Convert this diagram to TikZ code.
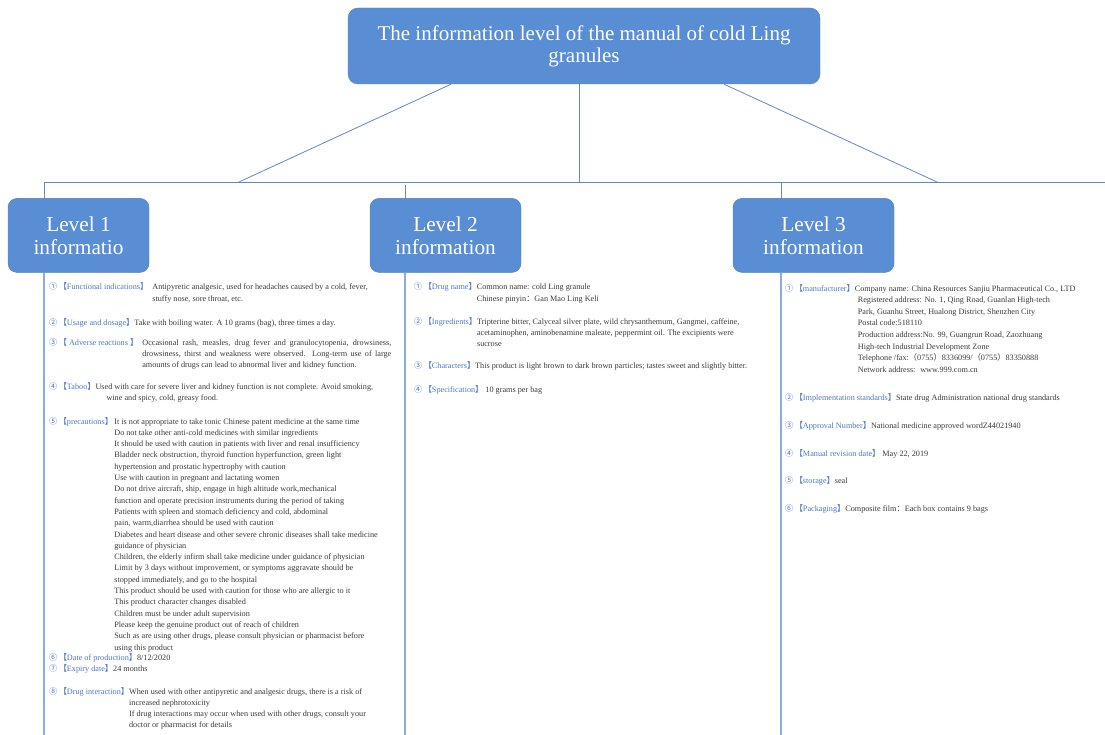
\documentclass[tikz,border=0pt]{standalone}
\usepackage{fontspec}
\setmainfont{Liberation Serif}
\newfontfamily\cjk{Noto Sans CJK SC}
\usepackage{xcolor}
\usetikzlibrary{positioning}
\definecolor{boxblue}{HTML}{598ED5}
\definecolor{boxedge}{HTML}{4C7CBE}
\definecolor{linkblue}{HTML}{6088C2}
\definecolor{colblue}{HTML}{86AEE0}
\definecolor{labblue}{HTML}{4A76C6}
\definecolor{bodygray}{HTML}{3A3A3A}
\newcommand{\cnum}[1]{{\cjk\color{labblue}#1}}
\newcommand{\itemlab}[1]{{\color{labblue}{\cjk【}#1{\cjk】}}}
\tikzset{
  titlebox/.style={draw=boxedge, fill=boxblue, rounded corners=10pt, text=white, align=center,
    font=\fontsize{21}{22}\selectfont, minimum width=472pt, minimum height=76pt, inner sep=0pt},
  levelbox/.style={draw=boxedge, fill=boxblue, rounded corners=9pt, text=white, align=center,
    font=\fontsize{21.3}{23}\selectfont, minimum height=74pt, inner sep=0pt},
  link/.style={draw=linkblue, line width=0.8pt},
  colline/.style={draw=colblue, line width=1.4pt},
  entry/.style={anchor=base west, inner sep=0pt, text=bodygray, font=\fontsize{8.2}{11.3}\selectfont}
}
\begin{document}
\begin{tikzpicture}[x=1pt,y=-1pt]
  \useasboundingbox (0,0) rectangle (1105,735);
  \node[titlebox] (title) at (584,46) {The information level of the manual of cold Ling\\granules};
  \node[levelbox,minimum width=141pt,below = 114pt of title,xshift=-505.5pt] (lev1) {Level 1\\informatio};
  \node[levelbox,minimum width=151pt,below = 114pt of title,xshift=-138.5pt] (lev2) {Level 2\\information};
  \node[levelbox,minimum width=161pt,below = 114pt of title,xshift=229.5pt] (lev3) {Level 3\\information};

  \coordinate (bw) at (44,182);
  \coordinate (be) at (1105,182);
  \coordinate (j1) at (239,182);
  \coordinate (j2) at (579,182);
  \coordinate (j3) at (937,182);
  \coordinate (s1) at (44,182);
  \coordinate (s2) at (405,185);
  \coordinate (s3) at (781,182);
  \coordinate (bot) at (0,735);
  \draw[link] (bw) -- (be);
  \draw[link] ([xshift=-133pt]title.south) -- (j1);
  \draw[link] ([xshift=-5pt]title.south) -- (j2);
  \draw[link] ([xshift=140pt]title.south) -- (j3);
  \draw[link] (s1) -- (s1 |- lev1.north);
  \draw[link] (s2) -- (s2 |- lev2.north);
  \draw[link] (s3) -- (s3 |- lev3.north);
  \draw[colline] (s1 |- lev1.south) -- (s1 |- bot);
  \draw[colline] (s2 |- lev2.south) -- (s2 |- bot);
  \draw[colline] (s3 |- lev3.south) -- (s3 |- bot);

  \node[entry] (a1) at (49,290) {\cnum{①}\,\itemlab{Functional indications}\ \ \begin{tabular}[t]{@{}l@{}}Antipyretic analgesic, used for headaches caused by a cold, fever,\\stuffy nose, sore throat, etc.\end{tabular}};
  \node[entry] (a2) at (49,325) {\cnum{②}\,\itemlab{Usage and dosage}Take with boiling water. A 10 grams (bag), three times a day.};
  \node[entry] (a3) at (49,345) {\cnum{③}\,\itemlab{ Adverse reactions }\ \ \parbox[t]{249pt}{Occasional rash, measles, drug fever and granulocytopenia, drowsiness,\linebreak drowsiness, thirst and weakness were observed. Long-term use of large\linebreak amounts of drugs can lead to abnormal liver and kidney function.}};
  \node[entry] (a4) at (49,389) {\cnum{④}\,\itemlab{Taboo}\begin{tabular}[t]{@{}l@{}}Used with care for severe liver and kidney function is not complete. Avoid smoking,\\\hspace{11pt}wine and spicy, cold, greasy food.\end{tabular}};
  \node[entry] (a5) at (49,424) {\cnum{⑤}\,\itemlab{precautions}\,\begin{tabular}[t]{@{}l@{}}It is not appropriate to take tonic Chinese patent medicine at the same time\\
    Do not take other anti-cold medicines with similar ingredients\\
    It should be used with caution in patients with liver and renal insufficiency\\
    Bladder neck obstruction, thyroid function hyperfunction, green light\\
    hypertension and prostatic hypertrophy with caution\\
    Use with caution in pregnant and lactating women\\
    Do not drive aircraft, ship, engage in high altitude work,mechanical\\
    function and operate precision instruments during the period of taking\\
    Patients with spleen and stomach deficiency and cold, abdominal\\
    pain, warm,diarrhea should be used with caution\\
    Diabetes and heart disease and other severe chronic diseases shall take medicine\\
    guidance of physician\\
    Children, the elderly infirm shall take medicine under guidance of physician\\
    Limit by 3 days without improvement, or symptoms aggravate should be\\
    stopped immediately, and go to the hospital\\
    This product should be used with caution for those who are allergic to it\\
    This product character changes disabled\\
    Children must be under adult supervision\\
    Please keep the genuine product out of reach of children\\
    Such as are using other drugs, please consult physician or pharmacist before\\
    using this product\end{tabular}};
  \node[entry] (a6) at (49,660) {\cnum{⑥}\,\itemlab{Date of production}8/12/2020};
  \node[entry] (a7) at (49,671) {\cnum{⑦}\,\itemlab{Expiry date}24 months};
  \node[entry] (a8) at (49,694) {\cnum{⑧}\,\itemlab{Drug interaction}\begin{tabular}[t]{@{}l@{}}When used with other antipyretic and analgesic drugs, there is a risk of\\
    increased nephrotoxicity\\
    If drug interactions may occur when used with other drugs, consult your\\
    doctor or pharmacist for details\end{tabular}};

  \node[entry] (b1) at (414,290) {\cnum{①}\,\itemlab{Drug name}\begin{tabular}[t]{@{}l@{}}Common name: cold Ling granule\\Chinese pinyin{\cjk ：}Gan Mao Ling Keli\end{tabular}};
  \node[entry] (b2) at (414,324) {\cnum{②}\,\itemlab{Ingredients}\begin{tabular}[t]{@{}l@{}}Tripterine bitter, Calyceal silver plate, wild chrysanthemum, Gangmei, caffeine,\\
    acetaminophen, aminobenamine maleate, peppermint oil. The excipients were\\
    sucrose\end{tabular}};
  \node[entry] (b3) at (414,368) {\cnum{③}\,\itemlab{Characters}This product is light brown to dark brown particles; tastes sweet and slightly bitter.};
  \node[entry] (b4) at (414,392) {\cnum{④}\,\itemlab{Specification}\ 10 grams per bag};

  \node[entry,font=\fontsize{8.2}{11.6}\selectfont] (c1) at (785,291) {\cnum{①}\,\itemlab{manufacturer}\begin{tabular}[t]{@{}l@{}}Company name: China Resources Sanjiu Pharmaceutical Co., LTD\\
    \hspace{3pt}Registered address: No. 1, Qing Road, Guanlan High-tech\\
    \hspace{3pt}Park, Guanhu Street, Hualong District, Shenzhen City\\
    \hspace{3pt}Postal code:518110\\
    \hspace{3pt}Production address:No. 99, Guangrun Road, Zaozhuang\\
    \hspace{3pt}High-tech Industrial Development Zone\\
    \hspace{3pt}Telephone /fax:{\cjk （}0755{\cjk ）}8336099/{\cjk （}0755{\cjk ）}83350888\\
    \hspace{3pt}Network address: \ www.999.com.cn\end{tabular}};
  \node[entry] (c2) at (785,400) {\cnum{②}\,\itemlab{Implementation standards}State drug Administration national drug standards};
  \node[entry] (c3) at (785,428) {\cnum{③}\,\itemlab{Approval Number}National medicine approved wordZ44021940};
  \node[entry] (c4) at (785,456) {\cnum{④}\,\itemlab{Manual revision date}\ May 22, 2019};
  \node[entry] (c5) at (785,483) {\cnum{⑤}\,\itemlab{storage}seal};
  \node[entry] (c6) at (785,511) {\cnum{⑥}\,\itemlab{Packaging}Composite film{\cjk ：}Each box contains 9 bags};
\end{tikzpicture}
\end{document}
